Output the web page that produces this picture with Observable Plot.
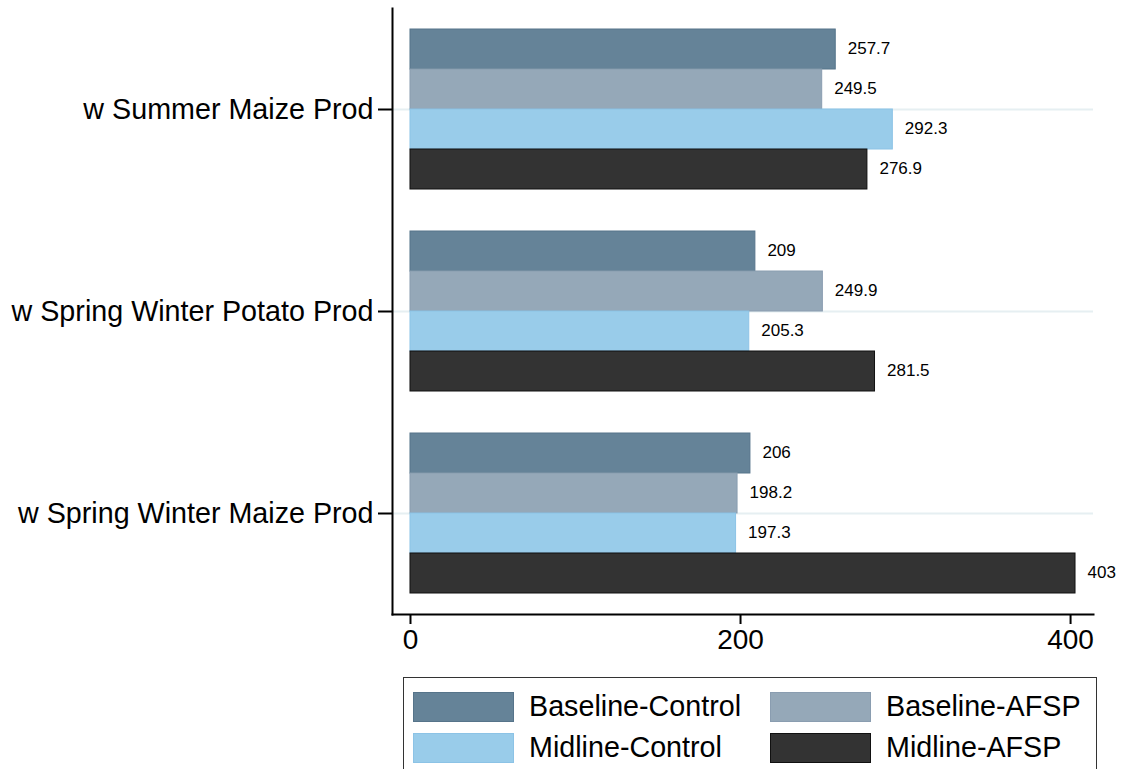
<!DOCTYPE html>
<html>
<head>
<meta charset="utf-8">
<script src="https://cdn.jsdelivr.net/npm/d3@7"></script>
<script src="https://cdn.jsdelivr.net/npm/@observablehq/plot@0.6"></script>
<style>
  html, body { margin: 0; padding: 0; background: #fff; overflow: hidden; }
  #wrap { position: relative; width: 1122px; height: 769px; font-family: "Liberation Sans", Arial, sans-serif; }
  #legend { position: absolute; left: 403px; top: 677px; width: 694px; height: 110px; border: 1.5px solid #333; box-sizing: border-box; }
  .item { position: absolute; display: flex; align-items: center; font-size: 28.7px; color: #000; }
  .sw { width: 101px; height: 30px; box-sizing: border-box; border: 1px solid; margin-right: 15px; }
</style>
</head>
<body>
<div id="wrap"><div id="chart"></div><div id="legend"></div></div>
<script>
const categories = ["w Summer Maize Prod", "w Spring Winter Potato Prod", "w Spring Winter Maize Prod"];
const series = ["Baseline-Control", "Baseline-AFSP", "Midline-Control", "Midline-AFSP"];
const baselineControl = [257.7, 209, 206];
const baselineAFSP = [249.5, 249.9, 198.2];
const midlineControl = [292.3, 205.3, 197.3];
const midlineAFSP = [276.9, 281.5, 403];
const xTicks = [0, 200, 400];
const fills = ["#658398", "#95a8b8", "#99ccea", "#333333"];
const strokes = ["#56748a", "#8a9db0", "#8cc3e6", "#111111"];

const seriesValues = [baselineControl, baselineAFSP, midlineControl, midlineAFSP];
const data = [];
series.forEach((s, i) => categories.forEach((c, j) => data.push({series: s, category: c, value: seriesValues[i][j]})));

const font = "Liberation Sans, Arial, sans-serif";

const marks = [
  Plot.gridFy({stroke: "#e6eff2", strokeOpacity: 1, strokeWidth: 2}),
  ...series.map((s, i) => Plot.barX(data.filter(d => d.series === s), {
    x1: 0, x2: "value", y: "series", fy: "category",
    fill: fills[i], stroke: strokes[i], strokeWidth: 1
  })),
  Plot.text(data, {x: "value", y: "series", fy: "category", text: d => String(d.value),
    dx: 12, dy: -1, textAnchor: "start", fontSize: 17, fill: "#000"}),
  Plot.axisFy({anchor: "left", tickSize: 14, tickPadding: 5, fontSize: 28.7, label: null, stroke: "#000", strokeWidth: 2, fill: "#000"}),
  Plot.axisX({ticks: xTicks, tickSize: 10, tickPadding: 5, fontSize: 28, label: null, stroke: "#000", strokeWidth: 2, fill: "#000"}),
  Plot.frame({anchor: "left", facet: "super", stroke: "#000", strokeWidth: 2}),
  Plot.frame({anchor: "bottom", facet: "super", stroke: "#000", strokeWidth: 2})
];

const chart = Plot.plot({
  width: 1122,
  height: 668,
  marginLeft: 392,
  marginRight: 29,
  marginTop: 8,
  marginBottom: 54,
  style: {fontFamily: font, background: "#fff", overflow: "visible"},
  x: {domain: [-10.9, 413.9]},
  y: {domain: series, paddingInner: 0, paddingOuter: 0.494, axis: null},
  fy: {domain: categories, padding: 0, axis: null},
  marks
});
document.getElementById("chart").appendChild(chart);

const legend = document.getElementById("legend");
const pos = [[9, 12], [366, 12], [9, 53], [366, 53]];
series.forEach((s, i) => {
  const item = document.createElement("div");
  item.className = "item";
  item.style.left = pos[i][0] + "px";
  item.style.top = pos[i][1] + "px";
  const sw = document.createElement("div");
  sw.className = "sw";
  sw.style.background = fills[i];
  sw.style.borderColor = strokes[i];
  const t = document.createElement("span");
  t.textContent = s;
  item.appendChild(sw);
  item.appendChild(t);
  legend.appendChild(item);
});
</script>
</body>
</html>
